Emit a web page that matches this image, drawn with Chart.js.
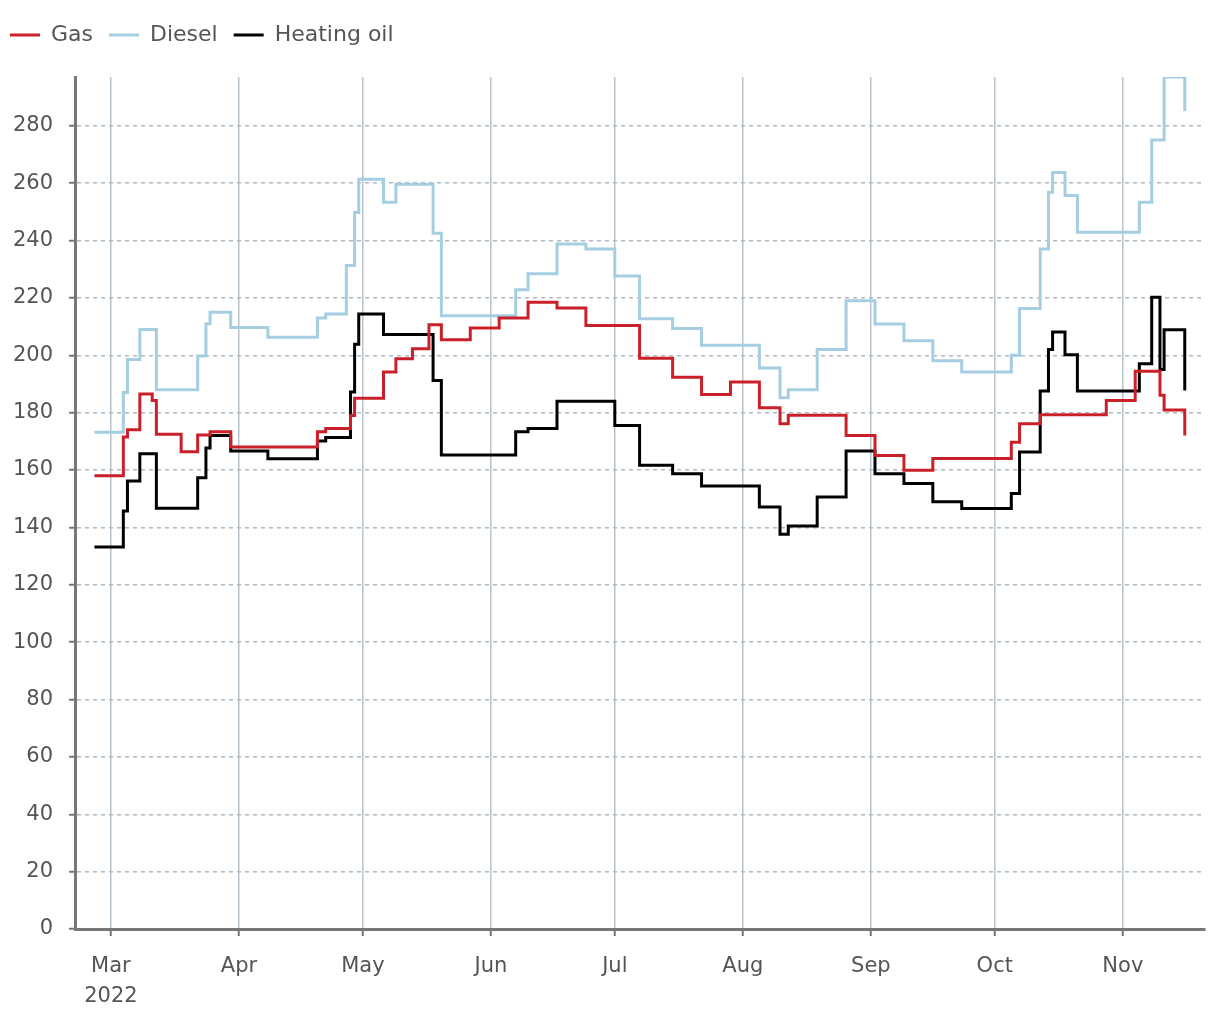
<!DOCTYPE html>
<html>
<head>
<meta charset="utf-8">
<script src="https://cdn.jsdelivr.net/npm/chart.js@4.4.0/dist/chart.umd.min.js"></script>
<style>
  html, body { margin: 0; padding: 0; background: #fff; }
  #wrap { width: 1220px; height: 1020px; }
</style>
</head>
<body>
<div id="wrap"><canvas id="chart"></canvas></div>
<script>
// x = days counted from 1 Mar 2022, each point starts a new price level
const monthDays = [0, 31, 61, 92, 122, 153, 184, 214, 245]
const monthLabels = ['Mar', 'Apr', 'May', 'Jun', 'Jul', 'Aug', 'Sep', 'Oct', 'Nov']
const yearLabel = '2022'
const yTicks = [0, 20, 40, 60, 80, 100, 120, 140, 160, 180, 200, 220, 240, 260, 280]

const gasDays = [-4, 3, 4, 7, 10, 11, 17, 21, 24, 29, 50, 52, 58, 59, 66, 69, 73, 77, 80, 87, 94, 101, 108, 115,
  128, 136, 143, 150, 157, 162, 164, 178, 185, 192, 199, 218, 220, 225, 241, 248, 254, 255, 260]
const gasPrices = [158, 171.5, 174, 186.5, 184.2, 172.5, 166.4, 172.2, 173.3, 168, 173.3, 174.5, 179, 185, 194.2, 198.8, 202.3, 210.6, 205.4, 209.5, 213, 218.5, 216.5, 210.4,
  199, 192.3, 186.3, 190.7, 181.7, 176.1, 179.1, 172, 165.1, 159.9, 164, 169.7, 176.1, 179.3, 184.2, 194.4, 186.1, 180.9, 172]

const dieselDays = [-4, 3, 4, 7, 11, 21, 23, 24, 29, 38, 50, 52, 57, 59, 60, 66, 69, 78, 80, 98, 101, 108, 115, 122,
  128, 136, 143, 157, 162, 164, 171, 178, 185, 192, 199, 206, 218, 220, 225, 227, 228, 231, 234, 249, 252, 255, 260]
const dieselPrices = [173.2, 187, 198.5, 209, 188, 199.7, 211, 215, 209.7, 206.3, 213, 214.4, 231.3, 249.8, 261.4, 253.3, 259.6, 242.5, 213.8, 222.8, 228.4, 238.8, 237, 227.6,
  212.7, 209.3, 203.5, 195.6, 185.2, 188, 202, 219, 210.9, 205.1, 198.1, 194.2, 200, 216.3, 237, 256.8, 263.7, 255.7, 242.9, 253.3, 275, 297, 285.1]

const oilDays = [-4, 3, 4, 7, 11, 21, 23, 24, 29, 38, 50, 52, 58, 59, 60, 66, 78, 80, 98, 101, 108, 122,
  128, 136, 143, 157, 162, 164, 171, 178, 185, 192, 199, 206, 218, 220, 225, 227, 228, 231, 234, 249, 252, 254, 255, 260]
const oilPrices = [133.2, 145.7, 156.2, 165.7, 146.7, 157.3, 167.7, 172, 166.6, 163.9, 170.1, 171.3, 187.2, 203.8, 214.4, 207.2, 191.2, 165.2, 173.3, 174.5, 184, 175.5,
  161.7, 158.7, 154.4, 147.1, 137.6, 140.5, 150.6, 166.6, 158.7, 155.3, 148.9, 146.6, 151.8, 166.3, 187.5, 202, 208.1, 200.2, 187.5, 197, 220.2, 195, 208.9, 187.7]

const FONT = "'DejaVu Sans', Verdana, sans-serif"

const toPoints = (days, values) => days.map((d, i) => ({ x: d, y: values[i] }))

const series = (label, days, values, color) => ({
  label,
  data: toPoints(days, values),
  borderColor: color,
  backgroundColor: color,
  borderWidth: 3,
  stepped: 'before',
  pointRadius: 0,
  fill: false
})

// nudge the legend so it sits where the original one does
const legendTweak = {
  id: 'legendTweak',
  beforeInit(chart) {
    const legend = chart.legend
    if (!legend) return
    const fit = legend.fit
    legend.fit = function () {
      fit.call(this)
      this.height += 21
    }
  },
  afterLayout(chart) {
    if (chart.legend) chart.legend.left -= 6
  }
}

new Chart(document.getElementById('chart'), {
  type: 'line',
  data: {
    datasets: [
      series('Gas', gasDays, gasPrices, '#c9202a'),
      series('Diesel', dieselDays, dieselPrices, '#a6cee3'),
      series('Heating oil', oilDays, oilPrices, '#000000')
    ]
  },
  options: {
    responsive: true,
    maintainAspectRatio: false,
    animation: false,
    layout: { padding: { top: 8, right: 15, bottom: 0, left: 0 } },
    plugins: {
      tooltip: { enabled: false },
      legend: {
        position: 'top',
        align: 'start',
        labels: {
          usePointStyle: true,
          pointStyle: 'line',
          pointStyleWidth: 30,
          padding: 16,
          color: '#555',
          font: { family: FONT, size: 22 }
        }
      }
    },
    scales: {
      x: {
        type: 'linear',
        min: -8.7,
        max: 264.9,
        afterBuildTicks: s => { s.ticks = monthDays.map(v => ({ value: v })) },
        afterFit: s => { s.height = 91 },
        ticks: {
          autoSkip: false,
          maxRotation: 0,
          padding: 16,
          color: '#555',
          font: { family: FONT, size: 21, lineHeight: 1.4 },
          callback: (v, i) => i === 0 ? [monthLabels[0], yearLabel] : monthLabels[i]
        },
        grid: { color: '#b7c3cc', lineWidth: 1.5, tickColor: '#777', tickLength: 7, tickWidth: 2 },
        border: { color: '#777', width: 3 }
      },
      y: {
        min: 0,
        max: 297,
        afterBuildTicks: s => { s.ticks = yTicks.map(v => ({ value: v })) },
        afterFit: s => { s.width = 75 },
        ticks: { padding: 16, color: '#555', font: { family: FONT, size: 21 } },
        grid: { color: '#b0b9c1', lineWidth: 1.5, tickColor: '#777', tickLength: 6, tickWidth: 2, tickBorderDash: [] },
        border: { color: '#777', width: 3, dash: [4, 4] }
      }
    }
  },
  plugins: [legendTweak]
})
</script>
</body>
</html>
